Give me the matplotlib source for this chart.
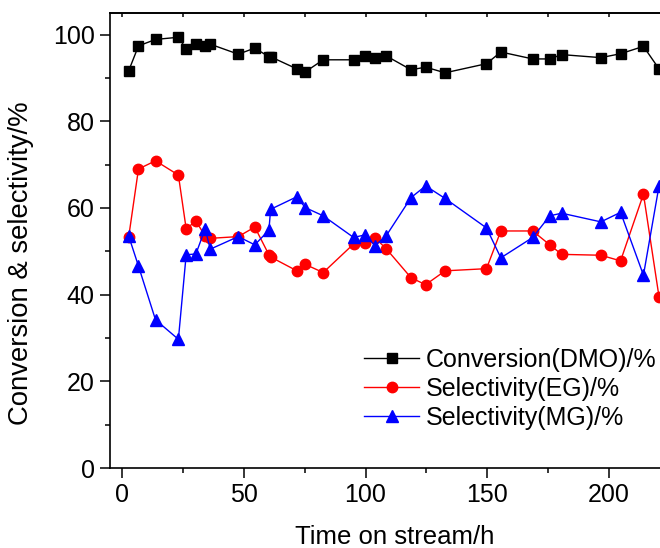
import matplotlib
matplotlib.use("Agg")
import matplotlib.pyplot as plt
from matplotlib.ticker import MultipleLocator, NullFormatter

plt.rcParams["font.family"] = ["Liberation Sans", "DejaVu Sans"]

# time on stream (h), shared by all three series
hours = [2.7, 6.7, 13.7, 23.1, 26.3, 30.3, 34.1, 36.2, 47.7, 54.5, 60.3, 61.0,
         71.8, 75.2, 82.6, 95.1, 99.8, 103.9, 108.5, 118.7, 124.7, 132.7,
         149.7, 155.6, 168.7, 175.7, 180.6, 196.7, 204.8, 214.2, 220.6]

conversion_dmo = [91.7, 97.4, 98.9, 99.4, 96.7, 97.8, 97.4, 97.8, 95.5, 96.9, 94.9, 94.9,
                  92.1, 91.4, 94.2, 94.2, 95.0, 94.7, 95.1, 91.9, 92.5, 91.2,
                  93.3, 96.0, 94.4, 94.4, 95.4, 94.7, 95.6, 97.3, 92.1]

selectivity_eg = [53.4, 69.0, 70.9, 67.6, 55.2, 57.0, 53.5, 53.0, 53.4, 55.6, 49.2, 48.7,
                  45.5, 47.0, 45.1, 51.7, 52.0, 53.1, 50.6, 43.9, 42.3, 45.5,
                  46.0, 54.7, 54.7, 51.5, 49.3, 49.1, 47.8, 63.2, 39.5]

selectivity_mg = [53.5, 46.6, 34.2, 29.7, 49.2, 49.4, 55.2, 50.5, 53.4, 51.5, 54.9, 59.7,
                  62.6, 60.1, 58.2, 53.2, 53.8, 51.3, 53.6, 62.4, 65.1, 62.2,
                  55.4, 48.5, 53.2, 58.2, 58.8, 56.8, 59.0, 44.5, 65.1]

FS = 18

fig = plt.figure(figsize=(6.6, 5.48), dpi=100)
ax = fig.add_axes([110 / 660, 80 / 548, 550 / 660, 455 / 548])

ax.plot(hours, conversion_dmo, color="black", lw=1, marker="s", ms=7,
        label="Conversion(DMO)/%")
ax.plot(hours, selectivity_eg, color="red", lw=1, marker="o", ms=7.5,
        label="Selectivity(EG)/%")
ax.plot(hours, selectivity_mg, color="blue", lw=1, marker="^", ms=8,
        label="Selectivity(MG)/%")

ax.set_xlim(-5, 221)
ax.set_ylim(0, 105)
ax.xaxis.set_major_locator(MultipleLocator(50))
ax.xaxis.set_minor_locator(MultipleLocator(25))
ax.yaxis.set_major_locator(MultipleLocator(20))
ax.yaxis.set_minor_locator(MultipleLocator(10))

ax.spines["right"].set_visible(False)
for side in ["left", "bottom", "top"]:
    ax.spines[side].set_linewidth(1.2)

ax.tick_params(which="major", direction="out", length=7, width=1.1,
               labelsize=FS, pad=4)
ax.tick_params(which="minor", direction="out", length=3.6, width=1.1)

# small inward ticks along the top edge
top = ax.secondary_xaxis("top")
top.xaxis.set_major_locator(MultipleLocator(25))
top.xaxis.set_major_formatter(NullFormatter())
top.tick_params(direction="in", length=3, width=1.1)
top.spines["top"].set_linewidth(1.2)

ax.set_xlabel("Time on stream/h", fontsize=18.5)
ax.xaxis.set_label_coords(0.518, -0.125)
ax.set_ylabel("Conversion & selectivity/%", fontsize=19.8)
ax.yaxis.set_label_coords(-0.138, 0.45)

ax.legend(loc="upper left", bbox_to_anchor=(364 / 660, 1 - 348 / 548),
          bbox_transform=fig.transFigure, frameon=False, fontsize=FS,
          handlelength=2.2, handletextpad=0.28, labelspacing=0.2,
          borderpad=0, borderaxespad=0)

fig.savefig("out.png", dpi=100)
